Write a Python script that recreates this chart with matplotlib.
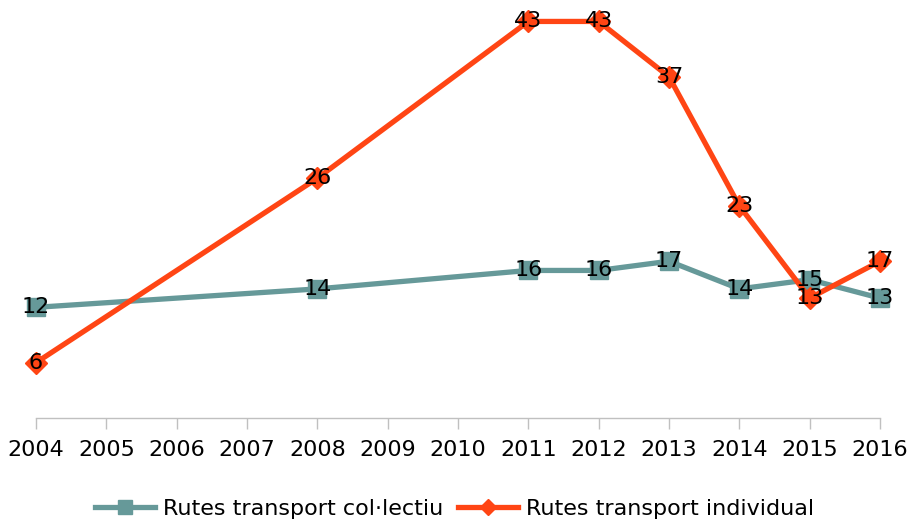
import matplotlib
matplotlib.use("Agg")
import matplotlib.pyplot as plt

years_col = [2004, 2008, 2011, 2012, 2013, 2014, 2015, 2016]
col_vals = [12, 14, 16, 16, 17, 14, 15, 13]
years_ind = [2004, 2008, 2011, 2012, 2013, 2014, 2015, 2016]
ind_vals = [6, 26, 43, 43, 37, 23, 13, 17]
tick_years = list(range(2004, 2017))
labels = ['Rutes transport col·lectiu', 'Rutes transport individual']

TEAL = '#669999'
ORANGE = '#ff4514'
FS = 16

plt.rcParams['font.family'] = ['DejaVu Sans']

fig = plt.figure(figsize=(9.09, 5.21), dpi=100)
ax = fig.add_axes([36 / 909, 1 - 418 / 521, (880 - 36) / 909, (418 - 3) / 521])

ax.plot(years_col, col_vals, color=TEAL, lw=3.8, marker='s', ms=13.5,
        label=labels[0], clip_on=False, zorder=3)
ax.plot(years_ind, ind_vals, color=ORANGE, lw=3.8, marker='D', ms=11,
        label=labels[1], clip_on=False, zorder=3)

for x, y in zip(years_col, col_vals):
    ax.text(x, y, str(y), ha='center', va='center', fontsize=FS, zorder=5)
for x, y in zip(years_ind, ind_vals):
    ax.text(x, y, str(y), ha='center', va='center', fontsize=FS, zorder=5)

ax.set_xlim(2004, 2016)
ax.set_ylim(0, 45)
ax.set_xticks(tick_years)
ax.set_xticklabels([str(y) for y in tick_years], fontsize=FS)
ax.tick_params(axis='x', length=8, width=1, color='#c0c0c0', pad=8)
ax.set_yticks([])
for s in ['top', 'right', 'left']:
    ax.spines[s].set_visible(False)
ax.spines['bottom'].set_color('#c0c0c0')
ax.spines['bottom'].set_linewidth(1)

fig.legend(loc='center', bbox_to_anchor=(0.5, 1 - 509 / 521), ncol=2,
           frameon=False, fontsize=FS, handlelength=2.7, handletextpad=0.35,
           columnspacing=0.7, borderaxespad=0, markerscale=0.75)

fig.savefig('out.png', dpi=100)
